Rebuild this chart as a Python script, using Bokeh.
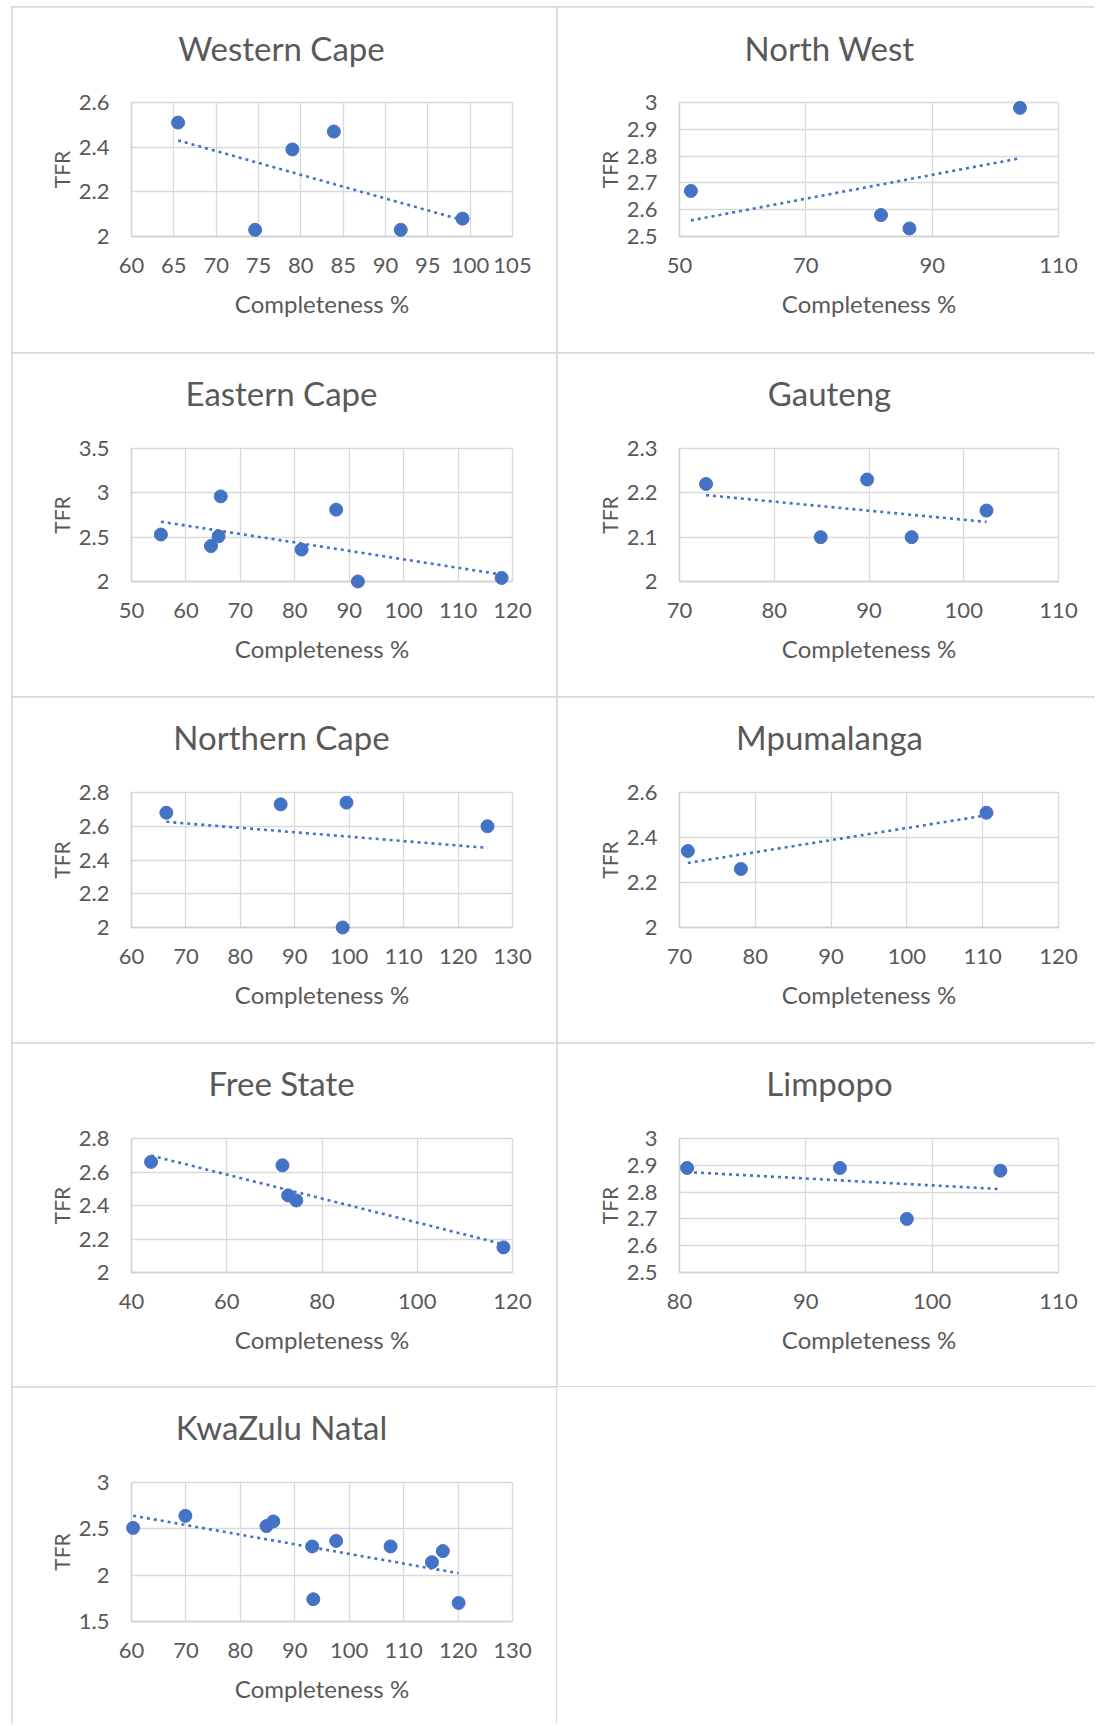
import numpy as np
from bokeh.plotting import figure
from bokeh.models import Range1d, FixedTicker, NumeralTickFormatter, GridBox, Spacer
from bokeh.core.properties import value
from bokeh.embed import file_html
from bokeh.resources import INLINE

# ---------------- data ----------------
wc_x = [65.5, 74.6, 79.0, 83.9, 91.8, 99.1]
wc_y = [2.51, 2.03, 2.39, 2.47, 2.03, 2.08]
wc_xticks = [60, 65, 70, 75, 80, 85, 90, 95, 100, 105]
wc_yticks = [2, 2.2, 2.4, 2.6]

nw_x = [51.8, 81.9, 86.4, 103.9]
nw_y = [2.67, 2.58, 2.53, 2.98]
nw_xticks = [50, 70, 90, 110]
nw_yticks = [2.5, 2.6, 2.7, 2.8, 2.9, 3]

ec_x = [55.4, 64.6, 66.0, 66.4, 81.25, 87.6, 91.6, 118.0]
ec_y = [2.53, 2.40, 2.51, 2.96, 2.36, 2.81, 2.00, 2.04]
ec_xticks = [50, 60, 70, 80, 90, 100, 110, 120]
ec_yticks = [2, 2.5, 3, 3.5]

ga_x = [72.8, 84.9, 89.8, 94.5, 102.4]
ga_y = [2.22, 2.10, 2.23, 2.10, 2.16]
ga_xticks = [70, 80, 90, 100, 110]
ga_yticks = [2, 2.1, 2.2, 2.3]

nc_x = [66.4, 87.4, 98.8, 99.5, 125.4]
nc_y = [2.68, 2.73, 2.00, 2.74, 2.60]
nc_xticks = [60, 70, 80, 90, 100, 110, 120, 130]
nc_yticks = [2, 2.2, 2.4, 2.6, 2.8]

mp_x = [71.1, 78.1, 110.5]
mp_y = [2.34, 2.26, 2.51]
mp_xticks = [70, 80, 90, 100, 110, 120]
mp_yticks = [2, 2.2, 2.4, 2.6]

fs_x = [44.1, 71.7, 72.9, 74.6, 118.1]
fs_y = [2.66, 2.64, 2.46, 2.43, 2.15]
fs_xticks = [40, 60, 80, 100, 120]
fs_yticks = [2, 2.2, 2.4, 2.6, 2.8]

li_x = [80.6, 92.7, 98.0, 105.4]
li_y = [2.89, 2.89, 2.70, 2.88]
li_xticks = [80, 90, 100, 110]
li_yticks = [2.5, 2.6, 2.7, 2.8, 2.9, 3]

kzn_x = [60.3, 69.9, 84.8, 86.05, 93.2, 93.4, 97.6, 107.6, 115.2, 117.2, 120.1]
kzn_y = [2.51, 2.64, 2.53, 2.58, 2.31, 1.74, 2.37, 2.31, 2.14, 2.26, 1.70]
kzn_xticks = [60, 70, 80, 90, 100, 110, 120, 130]
kzn_yticks = [1.5, 2, 2.5, 3]

# ---------------- styles ----------------
BLUE = "#4472C4"
GRID = "#d9d9d9"
TEXT = "#595959"
FONT = "Lato"

LEFT_W, RIGHT_W = 544, 538


def make_panel(title, xs, ys, xticks, yticks, width, height, left, top, frame_w, frame_h):
    x0, x1 = xticks[0], xticks[-1]
    y0, y1 = yticks[0], yticks[-1]
    p = figure(width=width, height=height, output_backend="svg", toolbar_location=None,
               x_range=Range1d(x0, x1), y_range=Range1d(y0, y1),
               min_border_left=left, min_border_right=width - left - frame_w,
               min_border_top=top, min_border_bottom=height - top - frame_h,
               outline_line_color=GRID, outline_line_width=1.3,
               background_fill_color="white", border_fill_color="white")
    p.xaxis.ticker = FixedTicker(ticks=xticks)
    p.yaxis.ticker = FixedTicker(ticks=yticks)
    p.xaxis.formatter = NumeralTickFormatter(format="0.[0]")
    p.yaxis.formatter = NumeralTickFormatter(format="0.[0]")
    p.xaxis.axis_label = "Completeness %"
    p.yaxis.axis_label = "TFR"
    for ax in p.axis:
        ax.axis_line_color = "#cfcfcf"
        ax.axis_line_width = 1.3
        ax.major_tick_line_color = None
        ax.minor_tick_line_color = None
        ax.major_label_text_font = FONT
        ax.major_label_text_font_size = "22px"
        ax.major_label_text_color = TEXT
        ax.axis_label_text_font = FONT
        ax.axis_label_text_font_style = "normal"
        ax.axis_label_text_color = TEXT
    p.xaxis.axis_label_text_font_size = "24px"
    p.yaxis.axis_label_text_font_size = "21px"
    p.xaxis.major_label_standoff = 15
    p.xaxis.axis_label_standoff = 13
    p.yaxis.major_label_standoff = 16
    p.yaxis.axis_label_standoff = 2
    for g in (p.xgrid, p.ygrid):
        g.grid_line_color = GRID
        g.grid_line_width = 1.3

    r = p.scatter(xs, ys, size=13, fill_color=BLUE, line_color=BLUE)
    r.level = "overlay"

    slope, intercept = np.polyfit(xs, ys, 1)
    tx = [min(xs), max(xs)]
    ty = [slope * x + intercept for x in tx]
    lr = p.line(tx, ty, line_color=BLUE, line_width=2.6, line_dash="3 4")
    lr.level = "overlay"

    # panel title, placed 150px right of the frame's left edge and 56px above its top
    title_x = x0 + (x1 - x0) * 150 / frame_w
    title_y = y1 + (y1 - y0) * 56 / frame_h
    t = p.text(x=[title_x], y=[title_y], text=[title], text_align="center",
               text_baseline="alphabetic", text_font=value(FONT),
               text_font_size="33px", text_color=TEXT)
    t.level = "overlay"
    return p


wc = make_panel("Western Cape", wc_x, wc_y, wc_xticks, wc_yticks, LEFT_W, 345, 119, 92, 381, 137)
nw = make_panel("North West", nw_x, nw_y, nw_xticks, nw_yticks, RIGHT_W, 345, 122, 95, 379, 137)
ec = make_panel("Eastern Cape", ec_x, ec_y, ec_xticks, ec_yticks, LEFT_W, 343, 119, 95, 381, 135)
ga = make_panel("Gauteng", ga_x, ga_y, ga_xticks, ga_yticks, RIGHT_W, 343, 122, 95, 379, 133)
nc = make_panel("Northern Cape", nc_x, nc_y, nc_xticks, nc_yticks, LEFT_W, 345, 119, 95, 381, 135)
mp = make_panel("Mpumalanga", mp_x, mp_y, mp_xticks, mp_yticks, RIGHT_W, 345, 122, 95, 379, 135)
fs = make_panel("Free State", fs_x, fs_y, fs_xticks, fs_yticks, LEFT_W, 343, 119, 95, 381, 134)
li = make_panel("Limpopo", li_x, li_y, li_xticks, li_yticks, RIGHT_W, 343, 122, 95, 379, 135)
kzn = make_panel("KwaZulu Natal", kzn_x, kzn_y, kzn_xticks, kzn_yticks, LEFT_W, 337, 119, 95, 381, 139)
blank = Spacer(width=RIGHT_W, height=337, styles={"background-color": "white"})

grid = GridBox(children=[(wc, 0, 0), (nw, 0, 1), (ec, 1, 0), (ga, 1, 1), (nc, 2, 0),
                         (mp, 2, 1), (fs, 3, 0), (li, 3, 1), (kzn, 4, 0), (blank, 4, 1)],
               spacing=1,
               styles={"background-color": GRID, "box-shadow": "-1px -1px 0 0 #d9d9d9",
                       "margin-left": "12px", "margin-top": "7px"})

open("out.html", "w").write(file_html(grid, INLINE))
